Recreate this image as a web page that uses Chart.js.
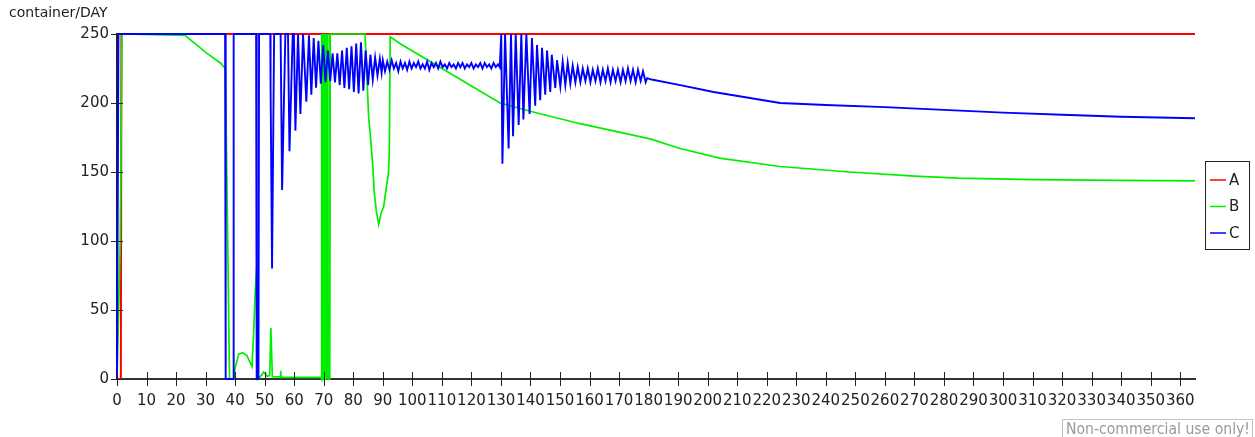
<!DOCTYPE html>
<html>
<head>
<meta charset="utf-8">
<script src="https://cdn.jsdelivr.net/npm/chart.js@4/dist/chart.umd.min.js"></script>
<style>
  html, body { margin: 0; padding: 0; background: #fff; }
  #wrap { width: 1255px; height: 437px; position: relative; }
</style>
</head>
<body>
<div id="wrap"><canvas id="chart"></canvas></div>
<script>
const seriesNames = ['A', 'B', 'C'];
const yTitle = 'container/DAY';
const watermark = 'Non-commercial use only!';

const dayA = [0, 1.3, 1.5, 365];
const valA = [0, 0, 250, 250];

const dayB = [0, 1.1, 1.7, 23.1, 25.9, 30.5, 35, 36.7, 38.1, 39.5, 40.0, 41.2, 42.5, 44.0, 45.7, 46.2, 46.8, 47.3, 47.7,
  49.0, 49.6, 50.2, 50.8, 51.7, 52.1, 52.6, 55.2, 55.4, 55.6, 69.1,
  69.2, 69.3, 69.4, 69.5, 69.6, 69.7, 69.8, 69.9, 70.0, 70.1, 70.2, 70.3, 70.4, 70.5, 70.6, 70.7, 70.8, 70.9,
  71.0, 71.1, 71.2, 71.3, 71.4, 71.5, 71.9, 72.0, 72.1, 72.2,
  84.0, 85.2, 86.0, 86.7, 87.1, 87.8, 88.6, 89.4, 90.3, 91.2, 91.9, 92.2, 92.5, 95.9, 129.7, 139.9, 156.8,
  180.5, 190.7, 204, 224.5, 248, 270, 285, 310, 340, 365];
const valB = [0, 100, 250, 249, 244, 236, 229, 225, 0, 0, 8, 18, 19, 17, 9, 30, 63, 80, 0,
  3, 5, 4, 2, 2.5, 37, 1.7, 1.5, 6, 1.2, 1.2,
  250, 0, 250, 0, 250, 0, 250, 0, 250, 0, 250, 0, 250, 0, 250, 0, 250, 0,
  250, 0, 250, 0, 250, 0, 0, 250, 0, 250,
  250, 190, 171, 151, 135, 122, 112, 120, 125, 139, 149, 163, 248, 243, 200, 194, 185,
  174, 167, 160, 154, 150, 147, 145.5, 144.5, 144, 143.5];

const dayC = [0, 0.5, 36.6, 36.8, 39.4, 39.5, 47.1, 47.3, 47.9, 48.1, 51.9, 52.0, 52.5, 53.2,
  55.4, 55.9, 57.0, 57.9, 58.4, 59.5, 59.9, 60.4, 61.3, 61.6, 62.1, 63.0,
  64.1, 65.0, 65.8, 66.6, 67.4, 68.2, 69.0, 69.8, 70.6, 71.4, 72.2, 73.0, 73.8, 74.6, 75.4, 76.2, 77.0,
  77.8, 78.6, 79.4, 80.2, 81.0, 81.8, 82.6, 83.4, 84.2, 85.0, 85.8, 86.6, 87.4, 88.2, 89.0, 89.6,
  90.0, 90.75, 91.5, 92.25, 93.0, 93.75, 94.5, 95.25, 96.0, 96.75, 97.5, 98.25, 99.0, 99.75, 100.5,
  101.25, 102.0, 102.75, 103.5, 104.25, 105.0, 105.75, 106.5, 107.25, 108.0, 108.75, 109.5, 110.25,
  111.0, 111.75, 112.5, 113.25, 114.0, 114.75, 115.5, 116.25, 117.0, 117.75, 118.5, 119.25, 120.0,
  120.75, 121.5, 122.25, 123.0, 123.75, 124.5, 125.25, 126.0, 126.75, 127.5, 128.25, 129.0, 129.6,
  130.1, 130.5, 131.4, 132.6, 133.4, 134.1, 135.0, 136.0, 136.9, 137.6, 138.6, 139.7, 140.5, 141.6,
  142.2, 143.3, 143.9, 145.0, 145.6, 146.7, 147.2, 148.4, 149.0,
  150.1, 150.9, 151.8, 152.6, 153.5, 154.3, 155.2, 156.0, 156.9, 157.7, 158.6, 159.4, 160.3, 161.1,
  162.0, 162.8, 163.7, 164.5, 165.4, 166.2, 167.1, 167.9, 168.8, 169.6, 170.5, 171.3, 172.2, 173.0,
  173.9, 174.7, 175.6, 176.4, 177.3, 178.1, 179.0, 179.5,
  181, 190.7, 202, 213.3, 224.5, 240, 260, 280, 300, 320, 340, 365];
const valC = [0, 250, 250, 0, 0, 250, 250, 0, 0, 250, 250, 212, 80, 250,
  250, 137, 250, 250, 165, 250, 250, 180, 250, 250, 192, 250,
  201, 249, 206, 247, 211, 245, 214, 242, 215, 238, 216, 236, 215, 236, 213, 238, 211,
  240, 210, 241, 208, 243, 207, 244, 209, 238, 213, 235, 217, 233, 220, 232, 222,
  231, 223, 230, 224, 231, 225, 229, 223, 230, 225, 229, 224, 230, 225, 229,
  226, 230, 225, 228, 225, 230, 224, 229, 226, 229, 225, 230, 226,
  228, 225, 229, 226, 228, 225, 229, 226, 229, 225, 228, 226, 229,
  225, 228, 226, 229, 225, 229, 226, 228, 225, 229, 226, 228, 226,
  250, 156, 250, 167, 250, 176, 250, 184, 250, 188, 250, 192, 247, 198,
  242, 202, 240, 206, 238, 208, 235, 211, 231,
  212, 230, 213, 229, 214, 227, 215, 226, 215, 225, 216, 225, 215, 224,
  216, 225, 215, 224, 216, 225, 215, 224, 216, 224, 215, 224, 216, 225,
  216, 224, 215, 224, 216, 223, 215, 218,
  217, 213, 208, 204, 200, 198.5, 197, 195, 193, 191.5, 190, 189];

const yTicks = [0, 50, 100, 150, 200, 250];
const colors = ['#ff0000', '#00ee00', '#0000ff'];

function toPoints(days, vals) {
    return days.map((d, i) => ({ x: d, y: vals[i] }));
}

const decor = {
    id: 'decor',
    afterDraw(chart) {
        const ctx = chart.ctx;
        const xs = chart.scales.x;
        const ys = chart.scales.y;
        ctx.save();

        // crossing tick marks
        ctx.strokeStyle = '#222';
        ctx.lineWidth = 1;
        ctx.beginPath();
        xs.ticks.forEach(t => {
            const px = Math.round(xs.getPixelForValue(t.value)) + 0.5;
            ctx.moveTo(px, ys.bottom - 7);
            ctx.lineTo(px, ys.bottom + 7);
        });
        ys.ticks.forEach(t => {
            const py = Math.round(ys.getPixelForValue(t.value)) + 0.5;
            ctx.moveTo(xs.left - 6, py);
            ctx.lineTo(xs.left + 6, py);
        });
        ctx.stroke();

        // axis title
        ctx.fillStyle = '#222';
        ctx.font = '14px "DejaVu Sans"';
        ctx.textAlign = 'left';
        ctx.textBaseline = 'middle';
        ctx.fillText(yTitle, 9, 13);

        // legend box
        const lx = 1205, ly = 161, lw = 44, lh = 88;
        ctx.strokeStyle = '#222';
        ctx.strokeRect(lx + 0.5, ly + 0.5, lw, lh);
        ctx.font = '15px "DejaVu Sans"';
        chart.data.datasets.forEach((ds, i) => {
            const y = 180 + i * 26.5;
            ctx.strokeStyle = ds.borderColor;
            ctx.lineWidth = 1.5;
            ctx.beginPath();
            ctx.moveTo(lx + 5, y);
            ctx.lineTo(lx + 21, y);
            ctx.stroke();
            ctx.fillStyle = '#222';
            ctx.fillText(ds.label, lx + 24, y + 1);
        });

        // watermark
        ctx.strokeStyle = '#c0c0c0';
        ctx.lineWidth = 1;
        ctx.strokeRect(1062.5, 419.5, 190, 20);
        ctx.fillStyle = '#9a9a9a';
        ctx.font = '15px "DejaVu Sans"';
        ctx.textBaseline = 'alphabetic';
        ctx.fillText(watermark, 1066, 434, 184);
        ctx.restore();
    }
};

new Chart(document.getElementById('chart'), {
    type: 'line',
    data: {
        datasets: [
            { label: seriesNames[0], data: toPoints(dayA, valA), borderColor: colors[0], order: 3, borderWidth: 2 },
            { label: seriesNames[1], data: toPoints(dayB, valB), borderColor: colors[1], order: 2 },
            { label: seriesNames[2], data: toPoints(dayC, valC), borderColor: colors[2], order: 1, borderWidth: 1.9 }
        ]
    },
    options: {
        responsive: true,
        maintainAspectRatio: false,
        animation: false,
        events: [],
        elements: {
            line: { borderWidth: 1.7, tension: 0, fill: false },
            point: { radius: 0 }
        },
        datasets: { line: { clip: 3 } },
        layout: { padding: { left: 0, right: 60, top: 34, bottom: 28 } },
        plugins: {
            legend: { display: false },
            tooltip: { enabled: false }
        },
        scales: {
            x: {
                type: 'linear',
                min: 0,
                max: 365,
                grid: { display: false, drawTicks: false },
                border: { display: true, color: '#333', width: 2 },
                ticks: {
                    stepSize: 10,
                    includeBounds: false,
                    autoSkip: false,
                    maxRotation: 0,
                    padding: 13,
                    color: '#222',
                    font: { family: 'DejaVu Sans', size: 15 }
                },
                afterFit: scale => { scale.height = 30; }
            },
            y: {
                min: 0,
                max: 250,
                grid: { display: false, drawTicks: false },
                border: { display: true, color: '#222', width: 2 },
                afterBuildTicks: scale => { scale.ticks = yTicks.map(v => ({ value: v })); },
                ticks: {
                    padding: 8,
                    color: '#222',
                    font: { family: 'DejaVu Sans', size: 15 }
                },
                afterFit: scale => { scale.width = 117; }
            }
        }
    },
    plugins: [decor]
});
</script>
</body>
</html>
